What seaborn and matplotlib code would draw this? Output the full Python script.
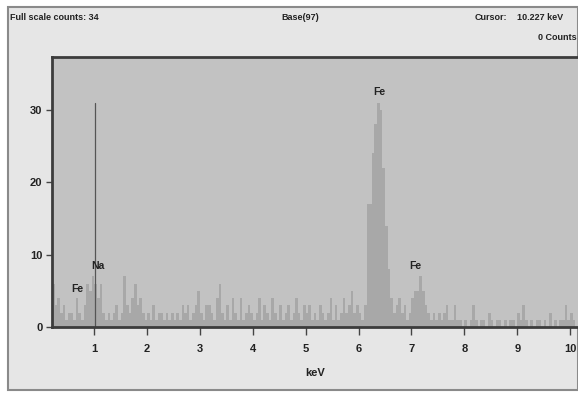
import numpy as np
import pandas as pd
import matplotlib
matplotlib.use("Agg")
import matplotlib.pyplot as plt
import seaborn as sns
from matplotlib.patches import Rectangle

# ---- data ----
start_kev = 0.2
bin_kev = 0.05
counts = [
    # 0.20 - 1.30
    6, 3, 4, 2, 3, 1, 2, 2, 1, 4, 2, 1, 3, 6, 5, 7, 6, 4, 6, 2, 1, 2,
    # 1.30 - 2.00
    1, 2, 3, 1, 2, 7, 3, 2, 4, 6, 3, 4, 2, 1,
    # 2.00 - 3.00
    2, 1, 3, 1, 2, 2, 1, 2, 1, 2, 1, 2, 1, 3, 2, 3, 1, 2, 3, 5,
    # 3.00 - 4.00
    2, 1, 3, 3, 2, 1, 4, 6, 2, 1, 3, 1, 4, 2, 1, 4, 1, 2, 3, 2,
    # 4.00 - 5.00
    1, 2, 4, 1, 3, 2, 1, 4, 2, 1, 3, 1, 2, 3, 1, 2, 4, 2, 1, 3,
    # 5.00 - 6.00
    2, 3, 1, 2, 1, 3, 2, 1, 2, 4, 1, 3, 1, 2, 4, 2, 3, 5, 2, 3,
    # 6.00 - 7.00
    2, 1, 3, 17, 17, 24, 28, 31, 30, 22, 14, 8, 4, 2, 3, 4, 2, 3, 1, 2,
    # 7.00 - 8.00
    4, 5, 5, 7, 5, 3, 2, 1, 2, 1, 2, 1, 2, 3, 1, 1, 3, 1, 1, 0,
    # 8.00 - 9.00
    1, 0, 1, 3, 1, 0, 1, 1, 0, 2, 1, 0, 1, 1, 0, 1, 0, 1, 1, 0,
    # 9.00 - 10.15
    2, 1, 3, 1, 0, 1, 0, 1, 1, 0, 1, 0, 2, 0, 1, 0, 1, 1, 3, 1, 2, 1, 0,
]
energy = [round(start_kev + bin_kev * (i + 0.5), 3) for i in range(len(counts))]
bin_edges = [round(start_kev + bin_kev * i, 3) for i in range(len(counts) + 1)]

x_ticks = [1, 2, 3, 4, 5, 6, 7, 8, 9, 10]
y_ticks = [0, 10, 20, 30]

peak_labels = ["Fe", "Na", "Fe", "Fe"]
peak_kev = [0.68, 1.06, 6.40, 7.08]
peak_label_counts = [4.6, 7.8, 31.8, 7.8]

cursor_kev = 1.02
cursor_counts = 31

df = pd.DataFrame({"energy": energy, "counts": counts})

# ---- figure ----
sns.set_theme(style="white")
plt.rcParams["font.family"] = ["Liberation Sans", "DejaVu Sans"]
W, H = 578, 394
fig = plt.figure(figsize=(W / 100, H / 100), dpi=100, facecolor="white")

# panel background (behind axes)
bg = Rectangle((8 / W, 4 / H), (W - 8) / W, (H - 11) / H,
               transform=fig.transFigure, facecolor="#e6e6e6",
               edgecolor="#8a8a8a", linewidth=1.5, zorder=-10)
fig.add_artist(bg)

ax = fig.add_axes([52 / W, (H - 327) / H, (W - 52) / W, (327 - 57) / H])
ax.set_zorder(1)
ax.set_facecolor("#c2c2c2")

sns.histplot(data=df, x="energy", weights="counts", bins=bin_edges,
             element="bars", color="#a8a8a8", edgecolor="none",
             alpha=1.0, linewidth=0, ax=ax)

ax.plot([cursor_kev, cursor_kev], [0, cursor_counts], color="#555555", lw=0.9)

for lab, xk, yc in zip(peak_labels, peak_kev, peak_label_counts):
    ax.text(xk, yc, lab, ha="center", va="bottom", fontsize=7.5,
            fontweight="bold", color="#222222")

ax.set_xlim(0.2, 10.15)
ax.set_ylim(0, 37.3)
ax.set_xticks(x_ticks)
ax.set_xticklabels([str(t) for t in x_ticks])
ax.set_yticks(y_ticks)
ax.set_yticklabels([str(t) for t in y_ticks])
ax.tick_params(axis="x", direction="out", length=6, width=1, color="#444444",
               labelsize=8, pad=6, bottom=True)
ax.tick_params(axis="y", direction="out", length=4, width=1, color="#444444",
               labelsize=8, pad=3, left=True)
for t in ax.get_xticklabels() + ax.get_yticklabels():
    t.set_fontweight("bold")
    t.set_color("#222222")
ax.set_xlabel("keV", fontsize=8, fontweight="bold", color="#222222", labelpad=10)
ax.set_ylabel("")

for side in ["left", "bottom", "top"]:
    ax.spines[side].set_visible(True)
    ax.spines[side].set_color("#3c3c3c")
    ax.spines[side].set_linewidth(2)
ax.spines["right"].set_visible(False)

# header texts
hdr = dict(fontsize=6.5, fontweight="bold", color="#222222", va="center")
fig.text(10 / W, 1 - 18 / H, "Full scale counts: 34", ha="left", **hdr)
fig.text(300 / W, 1 - 18 / H, "Base(97)", ha="center", **hdr)
fig.text(507 / W, 1 - 18 / H, "Cursor:", ha="right", **hdr)
fig.text(563 / W, 1 - 18 / H, "10.227 keV", ha="right", **hdr)
fig.text(577 / W, 1 - 37 / H, "0 Counts", ha="right", **hdr)

fig.savefig("out.png", dpi=100, facecolor=fig.get_facecolor())
